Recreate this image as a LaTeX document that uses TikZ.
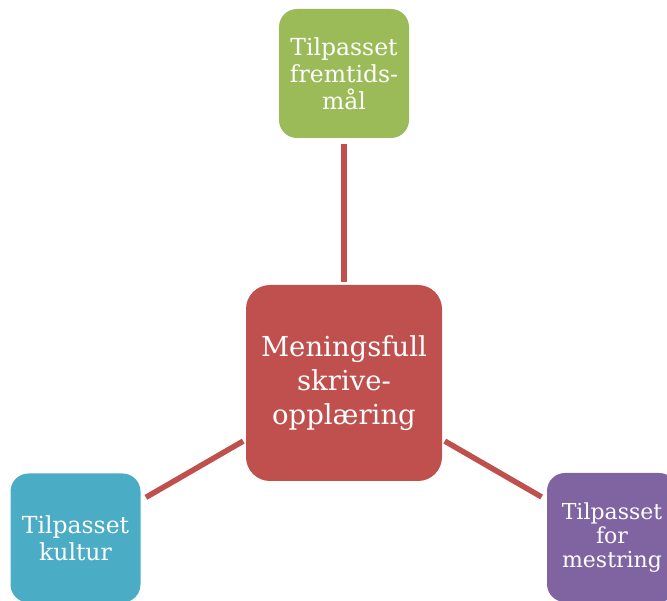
\documentclass[tikz,border=0pt]{standalone}
\usepackage{fontspec}
\setmainfont{DejaVu Serif}
\usepackage{tikz}
\definecolor{redbox}{HTML}{C0504D}
\definecolor{greenbox}{HTML}{9BBB59}
\definecolor{bluebox}{HTML}{4BACC6}
\definecolor{purplebox}{HTML}{8064A2}

\begin{document}
\begin{tikzpicture}[
    box/.style={rounded corners=18pt,text=white,align=center,
      minimum width=130pt,minimum height=129pt,inner sep=0pt,
      font=\fontsize{23.5}{27}\selectfont},
    link/.style={draw=redbox,line width=5.5pt,shorten <=3pt,shorten >=6pt},
    node distance=309.5pt]
      \useasboundingbox (0,0) rectangle (667pt,601pt);

      \node[box,fill=redbox,rounded corners=24pt,minimum width=196pt,minimum height=196pt,
        font=\fontsize{27.5}{34}\selectfont] (1) at (344pt,218pt) {Meningsfull\\skrive-\\opplæring};
      \node[box,fill=greenbox,above of=1] (2) {Tilpasset\\fremtids-\\mål};
      \node[box,fill=bluebox,left of=1,xshift=41pt,yshift=-155pt] (3) {Tilpasset\\kultur};
      \node[box,fill=purplebox,right of=1,xshift=-41.5pt,yshift=-154.5pt,
        font=\fontsize{22}{24}\selectfont] (4) {Tilpasset\\for\\mestring};

      \draw[link] (1) -- (2);
      \draw[link] (1) -- (3);
      \draw[link] (1) -- (4);
    \end{tikzpicture}
\end{document}
